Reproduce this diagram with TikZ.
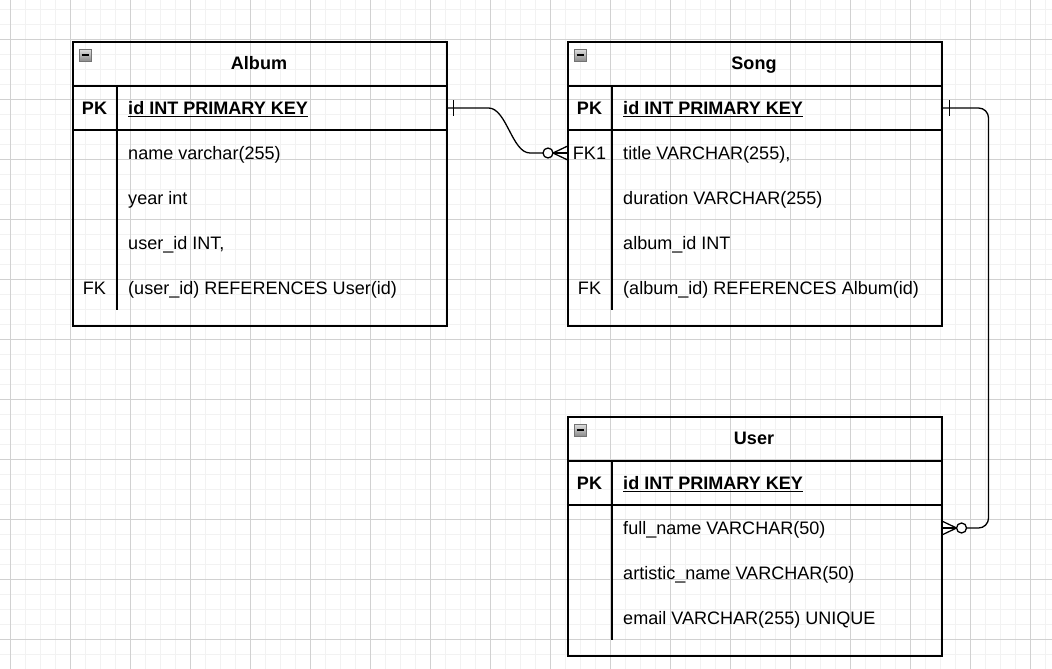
\documentclass[tikz,border=0pt]{standalone}
\usepackage{fontspec}
\setmainfont{Liberation Sans}
\usetikzlibrary{positioning}

\begin{document}
\begin{tikzpicture}[x=0.03cm, y=0.03cm]
        \tikzstyle{every node}+=[inner sep=0pt, font=\fontsize{15.4}{18}\selectfont]
        \tikzstyle{tbl}=[draw=black, line width=1.3pt, anchor=north west, minimum width=11.22cm]
        \tikzstyle{cell}=[anchor=west, text height=11pt, text depth=0pt]
        \tikzstyle{key}=[text height=11pt, text depth=0pt]
        \tikzstyle{ttl}=[text height=11pt, text depth=0pt, font=\fontsize{15.4}{18}\selectfont\bfseries]
        \tikzstyle{minor}=[color=black!5, line width=0.5pt]
        \tikzstyle{major}=[color=black!18, line width=0.5pt]
        \tikzstyle{rel}=[black, line width=1.1pt]
        \tikzstyle{icon}=[draw=black!55, top color=black!12, bottom color=black!45, line width=0.5pt]
        \useasboundingbox (0,0) rectangle (1052,-669);
        \fill [white] (0,0) rectangle (1052,-669);
        \foreach \x in {10,25,...,1050} \draw [minor] (\x,0) -- (\x,-669);
        \foreach \y in {9,24,...,669} \draw [minor] (0,-\y) -- (1052,-\y);
        \foreach \x in {10,70,...,1050} \draw [major] (\x,0) -- (\x,-669);
        \foreach \y in {39,99,...,669} \draw [major] (0,-\y) -- (1052,-\y);
        \node [tbl, minimum height=8.52cm] (album) at (72,-41) {};
        \draw [black, line width=1.3pt] (72,-86) -- (446,-86);
        \draw [black, line width=1.3pt] (72,-130) -- (446,-130);
        \draw [black, line width=1.3pt] (117,-86) -- (117,-310);
        \draw [icon] (79,-49) rectangle (91,-61);
        \draw [black, line width=1.2pt] (81.5,-55) -- (88.5,-55);
        \node [ttl] (albumtitle) at (259,-63.5) {Album};
        \node [key, font=\fontsize{15.4}{18}\selectfont\bfseries] (albumpk) at (94.5,-108) {PK};
        \node [cell, font=\fontsize{15.4}{18}\selectfont\bfseries] (albumid) at (128,-108) {\underline{id INT PRIMARY KEY}};
        \node [cell] (albumname) at (128,-153) {name varchar(255)};
        \node [cell] (albumyear) at (128,-198) {year int};
        \node [cell] (albumuser) at (128,-243) {user\_id INT,};
        \node [key] (albumfk) at (94.5,-288) {FK};
        \node [cell] (albumref) at (128,-288) {(user\_id) REFERENCES User(id)};
        \node [tbl, minimum height=8.52cm] (song) at (567,-41) {};
        \draw [black, line width=1.3pt] (567,-86) -- (941,-86);
        \draw [black, line width=1.3pt] (567,-130) -- (941,-130);
        \draw [black, line width=1.3pt] (612,-86) -- (612,-310);
        \draw [icon] (574,-49) rectangle (586,-61);
        \draw [black, line width=1.2pt] (576.5,-55) -- (583.5,-55);
        \node [ttl] (songtitle) at (754,-63.5) {Song};
        \node [key, font=\fontsize{15.4}{18}\selectfont\bfseries] (songpk) at (589.5,-108) {PK};
        \node [cell, font=\fontsize{15.4}{18}\selectfont\bfseries] (songid) at (623,-108) {\underline{id INT PRIMARY KEY}};
        \node [key] (songfkone) at (589.5,-153) {FK1};
        \node [cell] (songname) at (623,-153) {title VARCHAR(255),};
        \node [cell] (songduration) at (623,-198) {duration VARCHAR(255)};
        \node [cell] (songalbum) at (623,-243) {album\_id INT};
        \node [key] (songfk) at (589.5,-288) {FK};
        \node [cell] (songref) at (623,-288) {(album\_id) REFERENCES Album(id)};
        \node [tbl, minimum height=7.17cm] (user) at (567,-416) {};
        \draw [black, line width=1.3pt] (567,-461) -- (941,-461);
        \draw [black, line width=1.3pt] (567,-505) -- (941,-505);
        \draw [black, line width=1.3pt] (612,-461) -- (612,-640);
        \draw [icon] (574,-424) rectangle (586,-436);
        \draw [black, line width=1.2pt] (576.5,-430) -- (583.5,-430);
        \node [ttl] (usertitle) at (754,-438.5) {User};
        \node [key, font=\fontsize{15.4}{18}\selectfont\bfseries] (userpk) at (589.5,-483) {PK};
        \node [cell, font=\fontsize{15.4}{18}\selectfont\bfseries] (userid) at (623,-483) {\underline{id INT PRIMARY KEY}};
        \node [cell] (userfull) at (623,-528) {full\_name VARCHAR(50)};
        \node [cell] (userartistic) at (623,-573) {artistic\_name VARCHAR(50)};
        \node [cell] (useremail) at (623,-618) {email VARCHAR(255) UNIQUE};
        \coordinate (albumone) at ([xshift=0.18cm]album.east |- albumpk);
        \coordinate (songmany) at ([xshift=-0.42cm]song.west |- songfkone);
        \draw [rel] (album.east |- albumpk) -- ([xshift=1.23cm]album.east |- albumpk) .. controls ([xshift=1.77cm]album.east |- albumpk) and ([xshift=-1.65cm]song.west |- songfkone) .. ([xshift=-1.11cm]song.west |- songfkone) -- ([xshift=-0.57cm]song.west |- songfkone);
        \draw [rel] ([yshift=0.24cm]albumone) -- ([yshift=-0.24cm]albumone);
        \draw [rel, fill=white] ([xshift=-0.15cm]songmany) circle (5);
        \draw [rel] (songmany) -- ([yshift=0.2cm]song.west |- songfkone);
        \draw [rel] (songmany) -- (song.west |- songfkone);
        \draw [rel] (songmany) -- ([yshift=-0.2cm]song.west |- songfkone);
        \coordinate (songone) at ([xshift=0.2cm]song.east |- songpk);
        \coordinate (usermany) at ([xshift=0.42cm]user.east |- userfull);
        \draw [rel, rounded corners=0.3cm] (song.east |- songpk) -- ([xshift=1.38cm]song.east |- songpk) -- ([xshift=1.38cm]user.east |- userfull) -- ([xshift=0.72cm]user.east |- userfull);
        \draw [rel] ([yshift=0.24cm]songone) -- ([yshift=-0.24cm]songone);
        \draw [rel, fill=white] ([xshift=0.15cm]usermany) circle (5);
        \draw [rel] (usermany) -- ([yshift=0.2cm]user.east |- userfull);
        \draw [rel] (usermany) -- (user.east |- userfull);
        \draw [rel] (usermany) -- ([yshift=-0.2cm]user.east |- userfull);
\end{tikzpicture}
\end{document}
